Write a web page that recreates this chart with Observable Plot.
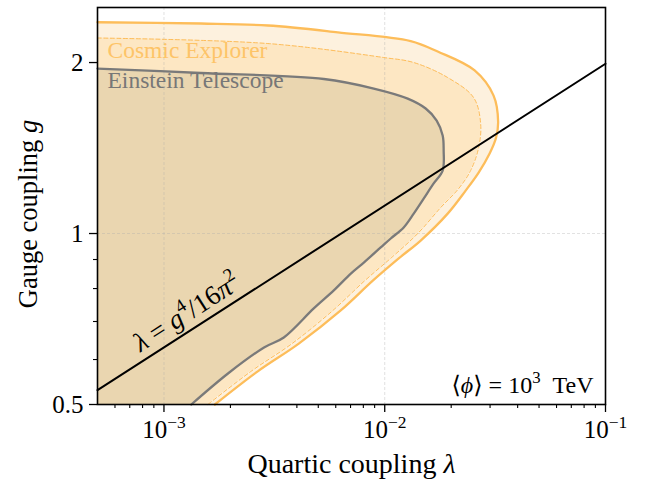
<!DOCTYPE html>
<html><head><meta charset="utf-8">
<script src="https://cdn.jsdelivr.net/npm/d3@7"></script>
<script src="https://cdn.jsdelivr.net/npm/@observablehq/plot@0.6"></script>
<style>body{margin:0;background:#fff}</style>
</head><body><div id="chart"></div>
<script>
// Cosmic Explorer reach (outer solid contour)
const ceOuterLambda = [5.0e-4, 1.47e-3, 2.96e-3, 6.13e-3, 0.01311, 0.01737, 0.02554, 0.03112, 0.03263, 0.03195, 0.02986, 0.02663, 0.02325, 0.01928, 0.01455, 0.01157, 8.83e-3, 6.32e-3, 4.08e-3, 2.66e-3, 1.70e-3];
const ceOuterG      = [2.355, 2.343, 2.324, 2.261, 2.182, 2.091, 1.937, 1.749, 1.575, 1.476, 1.383, 1.280, 1.190, 1.084, 0.972, 0.904, 0.826, 0.732, 0.640, 0.572, 0.5];
// Cosmic Explorer (dashed contour)
const ceDashedLambda = [5.0e-4, 2.96e-3, 9.90e-3, 0.01353, 0.01928, 0.02527, 0.02719, 0.02663, 0.02450, 0.02162, 0.01792, 0.01411, 0.01087, 8.12e-3, 5.82e-3, 3.80e-3, 2.48e-3, 1.58e-3];
const ceDashedG      = [2.209, 2.160, 2.041, 2.000, 1.882, 1.735, 1.562, 1.417, 1.291, 1.200, 1.111, 1.000, 0.911, 0.826, 0.732, 0.640, 0.572, 0.5];
// Einstein Telescope reach
const etLambda = [5.0e-4, 1.47e-3, 5.30e-3, 8.92e-3, 0.01271, 0.01533, 0.01719, 0.01830, 0.01849, 0.01830, 0.01666, 0.01501, 0.01353, 0.01219, 0.01065, 9.59e-3, 8.04e-3, 7.02e-3, 5.88e-3, 4.77e-3, 3.49e-3, 2.84e-3, 1.95e-3, 1.33e-3];
const etG      = [1.952, 1.917, 1.871, 1.800, 1.728, 1.660, 1.581, 1.488, 1.400, 1.291, 1.225, 1.152, 1.084, 1.025, 0.980, 0.945, 0.889, 0.850, 0.794, 0.738, 0.656, 0.630, 0.567, 0.5];
// lambda = g^4 / 16 pi^2 line (endpoints read at the frame edges)
const relLambda = [5.0e-4, 0.1];
const relG      = [0.53, 1.99];

const xMajorTicks = [1e-3, 1e-2, 1e-1];
const xTickLabels = ["10^{−3}", "10^{−2}", "10^{−1}"];
const xMinorTicks = [6e-4, 7e-4, 8e-4, 9e-4, 2e-3, 3e-3, 4e-3, 5e-3, 6e-3, 7e-3, 8e-3, 9e-3, 2e-2, 3e-2, 4e-2, 5e-2, 6e-2, 7e-2, 8e-2, 9e-2];
const yMajorTicks = [0.5, 1, 2];
const yTickLabels = ["0.5", "1", "2"];
const yMinorTicks = [0.6, 0.7, 0.8, 0.9];
const xGrid = [1e-3, 1e-2];
const yGrid = [1];

const zip = (a, b) => a.map((v, i) => ({lam: v, g: b[i]}));
const ceOuter = zip(ceOuterLambda, ceOuterG);
const ceDashed = zip(ceDashedLambda, ceDashedG);
const et = zip(etLambda, etG);
const rel = zip(relLambda, relG);
const curve = "catmull-rom";
const LMIN = 5e-4;

const chart = Plot.plot({
  width: 645, height: 481,
  marginLeft: 97, marginRight: 40, marginTop: 7, marginBottom: 77,
  style: {fontFamily: "'Liberation Serif', 'DejaVu Serif', serif", background: "white", color: "black", overflow: "visible"},
  x: {type: "log", domain: [5e-4, 1e-1], label: null},
  y: {type: "log", domain: [0.5, 2.5], label: null},
  marks: [
    Plot.areaX(ceOuter, {y: "g", x1: LMIN, x2: "lam", fill: "#fdf1de", curve}),
    Plot.areaX(ceDashed, {y: "g", x1: LMIN, x2: "lam", fill: "#fde7c3", curve}),
    Plot.areaX(et, {y: "g", x1: LMIN, x2: "lam", fill: "#ead6b0", curve}),
    Plot.gridX(xGrid, {stroke: "#aaaaaa", strokeOpacity: 0.45, strokeWidth: 0.8, strokeDasharray: "3,2"}),
    Plot.gridY(yGrid, {stroke: "#aaaaaa", strokeOpacity: 0.45, strokeWidth: 0.8, strokeDasharray: "3,2"}),
    Plot.line(ceOuter, {x: "lam", y: "g", stroke: "#fdbd5a", strokeWidth: 2.3, curve}),
    Plot.line(ceDashed, {x: "lam", y: "g", stroke: "#fdbd5a", strokeWidth: 1, strokeDasharray: "4,2.5", curve}),
    Plot.line(et, {x: "lam", y: "g", stroke: "#7a7a7a", strokeWidth: 2.3, curve}),
    Plot.line(rel, {x: "lam", y: "g", stroke: "black", strokeWidth: 2}),
    Plot.text(["Cosmic Explorer"], {frameAnchor: "top-left", textAnchor: "start", lineAnchor: "middle", dx: 10, dy: 42.5, fontSize: 23.5, fill: "#fdc468"}),
    Plot.text(["Einstein Telescope"], {frameAnchor: "top-left", textAnchor: "start", lineAnchor: "middle", dx: 10, dy: 73, fontSize: 23.5, fill: "#777777"}),
    Plot.text(["⟨*ϕ*⟩ = 10^{3}  TeV"], {frameAnchor: "bottom-right", textAnchor: "end", lineAnchor: "middle", dx: -12, dy: -19, fontSize: 24, fill: "black"}),
    Plot.text(["*λ* = *g*^{4}/16*π*^{2}"], {x: () => 1.268e-3, y: () => 0.726, rotate: -32.75, textAnchor: "middle", lineAnchor: "middle", fontSize: 27, fill: "black"}),
    Plot.axisX(xMinorTicks, {tickSize: 4, tickFormat: () => "", strokeWidth: 1.1}),
    Plot.axisX(xMajorTicks, {tickSize: 8, tickPadding: 8, strokeWidth: 1.3, fontSize: 25, tickFormat: d => xTickLabels[xMajorTicks.indexOf(d)]}),
    Plot.axisY(yMinorTicks, {tickSize: 4, tickFormat: () => "", strokeWidth: 1.1}),
    Plot.axisY(yMajorTicks, {tickSize: 8, tickPadding: 6, strokeWidth: 1.3, fontSize: 25, tickFormat: d => yTickLabels[yMajorTicks.indexOf(d)]}),
    Plot.text(["Quartic coupling *λ*"], {frameAnchor: "bottom", textAnchor: "middle", lineAnchor: "middle", dy: 60, fontSize: 28}),
    Plot.text(["Gauge coupling *g*"], {frameAnchor: "left", textAnchor: "middle", lineAnchor: "middle", rotate: -90, dx: -69, dy: 8, fontSize: 26.5}),
    Plot.frame({stroke: "black", strokeWidth: 1.6})
  ]
});

function richify(root) {
  d3.select(root).selectAll("text").each(function() {
    const s = this.textContent;
    if (!/\^\{|\*/.test(s)) return;
    const el = d3.select(this);
    el.text(null);
    const re = /\^\{([^}]*)\}|\*([^*]+)\*|([^^*]+)/g;
    let m, raised = false;
    while ((m = re.exec(s))) {
      const t = el.append("tspan");
      if (m[1] !== undefined) {
        t.attr("font-size", "70%").attr("dy", "-0.6em").text(m[1]);
        raised = true;
      } else {
        if (raised) { t.attr("dy", "0.42em"); raised = false; }
        if (m[2] !== undefined) t.attr("font-style", "italic").text(m[2]);
        else t.text(m[3]);
      }
    }
  });
}
richify(chart);
document.getElementById("chart").appendChild(chart);
</script>
</body></html>
